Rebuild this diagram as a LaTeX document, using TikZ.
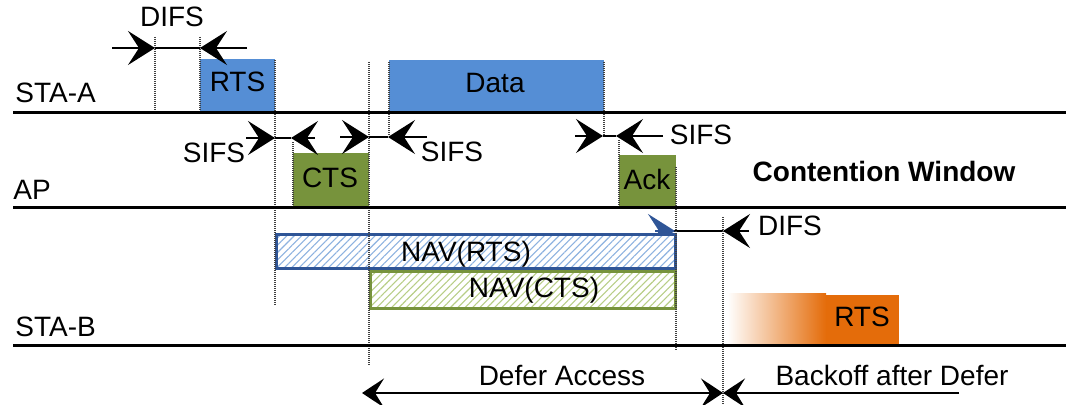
\documentclass[tikz,border=0pt]{standalone}
\usepackage{fontspec}
\setmainfont{Liberation Sans}
\usetikzlibrary{arrows.meta,patterns.meta}
\definecolor{boxblue}{HTML}{558ED5}
\definecolor{boxgreen}{HTML}{77933C}
\definecolor{boxorange}{HTML}{E46C0A}
\definecolor{navblue}{HTML}{2F5597}
\definecolor{hatchblue}{HTML}{8DB2E0}
\definecolor{hatchgreen}{HTML}{B8CE86}
\definecolor{tickgray}{HTML}{404040}
\begin{document}
\begin{tikzpicture}[x=0.5pt,y=-0.5pt,
  lbl/.style={anchor=base, inner sep=0pt, font=\fontsize{14}{16}\selectfont},
  boldlbl/.style={lbl, font=\fontsize{14}{16}\selectfont\bfseries},
  tick/.style={tickgray, line width=0.8pt, dash pattern=on 0.6pt off 0.4pt},
  axisline/.style={black, line width=1.5pt},
  arr/.style={line width=1pt, -{Stealth[length=13.5pt,width=17pt,inset=5.5pt]}},
  arrsm/.style={line width=1pt, -{Stealth[length=11pt,width=14.5pt,inset=4.5pt]}},
  link/.style={line width=1pt}]
\useasboundingbox (0,0) rectangle (1069,405);

% ---- filled boxes
\fill[boxblue] (200,59) rectangle (275,113);
\fill[boxblue] (389,60) rectangle (604,113);
\fill[boxgreen] (293,153) rectangle (369,208);
\fill[boxgreen] (619,155) rectangle (676,208);
\shade[left color=white, right color=boxorange] (727,294) rectangle (826,343);
\fill[boxorange] (826,295) rectangle (899,347);

% ---- DIFS arrow before NAV (partly hidden by NAV box)
\coordinate (dfB0) at (655,231);
\coordinate (dfB1) at (675,231);
\coordinate (dfB2) at (723,231);
\coordinate (dfB3) at (749,231);
\draw[link] (dfB0) -- (dfB2);
\draw[line width=1pt, navblue, -{Stealth[length=13.5pt,width=17pt,inset=5.5pt]}] (dfB0) -- (dfB1);
\draw[arr] (dfB3) -- (dfB2);

% ---- NAV boxes
\draw[navblue, line width=1.5pt, fill=white] (276,235) rectangle (675,269);
\fill[pattern={Lines[angle=45,distance=2.6pt,line width=0.55pt]}, pattern color=hatchblue] (277,236) rectangle (674,268);
\draw[navblue, line width=1.5pt] (276,235) rectangle (675,269);
\draw[boxgreen, line width=1.5pt, fill=white] (370,272) rectangle (675,309);
\fill[pattern={Lines[angle=45,distance=2.6pt,line width=0.55pt]}, pattern color=hatchgreen] (371,273) rectangle (674,308);
\draw[boxgreen, line width=1.5pt] (370,272) rectangle (675,309);

% ---- dotted time marks
\draw[tick] (155,37) -- (155,113);
\draw[tick] (200,37) -- (200,113);
\draw[tick] (275,60) -- (275,305);
\draw[tick] (293,142) -- (293,208);
\draw[tick] (369,62) -- (369,365);
\draw[tick] (389,62) -- (389,135);
\draw[tick] (604,62) -- (604,136);
\draw[tick] (619,140) -- (619,208);
\draw[tick] (676,167) -- (676,350);
\draw[tick] (723,217) -- (723,405);

% ---- station lines
\draw[axisline] (13,113) -- (1066,113);
\draw[axisline] (13,208) -- (1066,208);
\draw[axisline] (13,345) -- (1066,345);

% ---- DIFS (top)
\coordinate (dA0) at (112,48);
\coordinate (dA1) at (155,48);
\coordinate (dA2) at (200,48);
\coordinate (dA3) at (247,48);
\draw[arr] (dA0) -- (dA1);
\draw[link] (dA1) -- (dA2);
\draw[arr] (dA3) -- (dA2);

% ---- SIFS 1
\coordinate (s10) at (246,138);
\coordinate (s11) at (275,138);
\coordinate (s12) at (291,138);
\coordinate (s13) at (315,138);
\draw[arr] (s10) -- (s11);
\draw[link] (s11) -- (s12);
\draw[arr] (s13) -- (s12);

% ---- SIFS 2
\coordinate (s20) at (340,137);
\coordinate (s21) at (369,137);
\coordinate (s22) at (388,137);
\coordinate (s23) at (427,137);
\draw[arr] (s20) -- (s21);
\draw[link] (s21) -- (s22);
\draw[arr] (s23) -- (s22);

% ---- SIFS 3
\coordinate (s30) at (575,136);
\coordinate (s31) at (603,136);
\coordinate (s32) at (616,136);
\coordinate (s33) at (663,136);
\draw[arr] (s30) -- (s31);
\draw[link] (s31) -- (s32);
\draw[arr] (s33) -- (s32);

% ---- Defer / Backoff
\coordinate (bk0) at (362,393);
\coordinate (bk1) at (723,393);
\coordinate (bk2) at (959,393);
\draw[line width=1pt, {Stealth[length=11pt,width=14.5pt,inset=4.5pt]}-{Stealth[length=11pt,width=14.5pt,inset=4.5pt]}] (bk0) -- (bk1);
\draw[arrsm] (bk2) -- (bk1);

% ---- labels
\node[lbl, anchor=base west] (staA) at (15,103) {STA-A};
\node[lbl, anchor=base west] (ap) at (13,200) {AP};
\node[lbl, anchor=base west] (staB) at (15,336) {STA-B};
\node[lbl] (difsA) at (172,27) {DIFS};
\node[lbl] (rtsA) at (237.5,92) {RTS};
\node[lbl] (data) at (495,93) {Data};
\node[lbl] (sifs1) at (214,163) {SIFS};
\node[lbl] (cts) at (330,188) {CTS};
\node[lbl] (sifs2) at (452,162) {SIFS};
\node[lbl] (sifs3) at (701,145) {SIFS};
\node[lbl] (ack) at (647,190) {Ack};
\node[boldlbl] (cw) at (884,182) {Contention Window};
\node[lbl] (difsB) at (790,236) {DIFS};
\node[lbl] (navr) at (466,262) {NAV(RTS)};
\node[lbl] (navc) at (534,298) {NAV(CTS)};
\node[lbl] (rtsB) at (862,327) {RTS};
\node[lbl] (defer) at (562,385) {Defer Access};
\node[lbl] (backoff) at (892,385) {Backoff after Defer};
\end{tikzpicture}
\end{document}
